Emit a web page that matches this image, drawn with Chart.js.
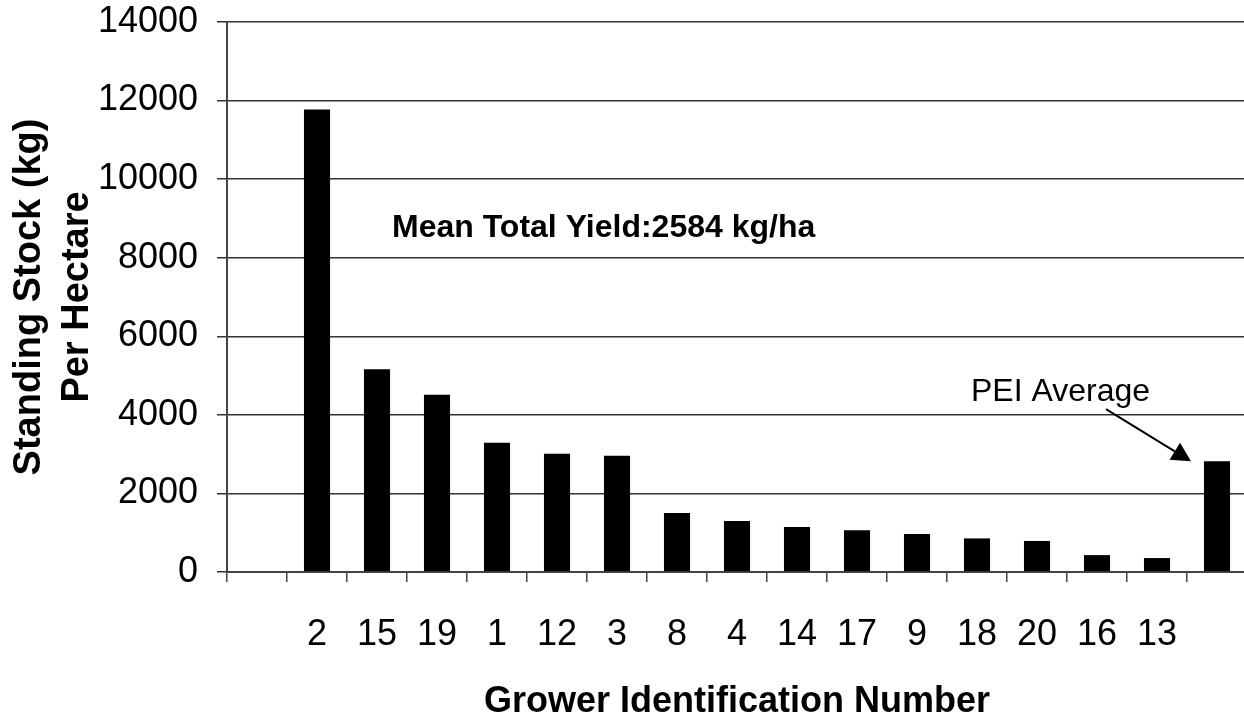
<!DOCTYPE html>
<html>
<head>
<meta charset="utf-8">
<script src="https://cdn.jsdelivr.net/npm/chart.js@4.4.1/dist/chart.umd.min.js"></script>
<style>
  html, body { margin: 0; padding: 0; background: #fff; overflow: hidden; }
  #wrap { width: 1244px; height: 727px; overflow: hidden; }
</style>
</head>
<body>
<div id="wrap"><canvas id="c" width="1250" height="727"></canvas></div>
<script>
// grower ids as shown on the x axis (first and last slots have no label)
const growers = ['', '2', '15', '19', '1', '12', '3', '8', '4', '14', '17', '9', '18', '20', '16', '13', ''];
// standing stock in kg per hectare, last one is the PEI average
const standingStock = [null, 11770, 5160, 4510, 3290, 3010, 2960, 1500, 1300, 1145, 1060, 965, 855, 790, 430, 355, 2820];
const yTicks = [0, 2000, 4000, 6000, 8000, 10000, 12000, 14000];
const meanNote = 'Mean Total Yield:2584 kg/ha';
const peiNote = 'PEI Average';

const FONT = '"Liberation Sans", Arial, Helvetica, sans-serif';

// text + arrow drawn on top of the bars
const notes = {
  id: 'notes',
  afterDatasetsDraw(chart) {
    const { ctx, scales: { x, y } } = chart;
    const last = standingStock.length - 1;
    const cx = x.getPixelForValue(last);
    const top = y.getPixelForValue(standingStock[last]);

    ctx.save();
    ctx.fillStyle = '#000';
    ctx.strokeStyle = '#000';
    ctx.textBaseline = 'alphabetic';
    ctx.textAlign = 'left';

    ctx.font = 'bold 32px ' + FONT;
    ctx.fillText(meanNote, x.getPixelForValue(1) + 75, y.getPixelForValue(8530));

    ctx.font = '32px ' + FONT;
    ctx.fillText(peiNote, cx - 246, top - 60);

    // arrow pointing at the PEI bar
    const sx = cx - 111, sy = top - 52;
    const tx = cx - 26, ty = top;
    const len = Math.hypot(tx - sx, ty - sy);
    const ux = (tx - sx) / len, uy = (ty - sy) / len;
    const hl = 19, hw = 10;
    const bx = tx - ux * hl, by = ty - uy * hl;
    ctx.lineWidth = 2;
    ctx.beginPath();
    ctx.moveTo(sx, sy);
    ctx.lineTo(bx, by);
    ctx.stroke();
    ctx.beginPath();
    ctx.moveTo(tx, ty);
    ctx.lineTo(bx - uy * hw, by + ux * hw);
    ctx.lineTo(bx + uy * hw, by - ux * hw);
    ctx.closePath();
    ctx.fill();
    ctx.restore();
  }
};

new Chart(document.getElementById('c'), {
  type: 'bar',
  data: {
    labels: growers,
    datasets: [{
      data: standingStock,
      backgroundColor: '#000',
      borderWidth: 0,
      barPercentage: 0.435,
      categoryPercentage: 1
    }]
  },
  options: {
    responsive: false,
    animation: false,
    devicePixelRatio: 1,
    layout: { padding: { top: 22, right: 3, left: 0, bottom: 0 } },
    plugins: { legend: { display: false }, tooltip: { enabled: false } },
    scales: {
      x: {
        offset: true,
        afterFit: (s) => { s.height = 155; },
        grid: { offset: true, drawOnChartArea: false, drawTicks: true, tickLength: 10, color: '#444', lineWidth: 1.5 },
        border: { display: true, color: '#444', width: 2 },
        ticks: { color: '#000', font: { family: FONT, size: 36 }, padding: 31, maxRotation: 0, autoSkip: false },
        title: {
          display: true,
          text: 'Grower Identification Number',
          color: '#000',
          font: { family: FONT, size: 36, weight: 'bold' },
          padding: { top: 0, bottom: 3 }
        }
      },
      y: {
        min: 0,
        max: 14000,
        afterFit: (s) => { s.width = 227; s.paddingTop = 0; s.paddingBottom = 0; },
        afterBuildTicks: (s) => { s.ticks = yTicks.map(v => ({ value: v })); },
        grid: { color: '#333', lineWidth: 1.5, tickLength: 10, drawTicks: true },
        border: { display: true, color: '#444', width: 2 },
        ticks: { color: '#000', font: { family: FONT, size: 36 }, padding: 19, callback: (v) => String(v) },
        title: {
          display: true,
          text: ['Standing Stock (kg)', 'Per Hectare'],
          color: '#000',
          font: { family: FONT, size: 38, weight: 'bold', lineHeight: 1.263 },
          padding: { top: 6, bottom: 0 }
        }
      }
    }
  },
  plugins: [notes]
});
</script>
</body>
</html>
